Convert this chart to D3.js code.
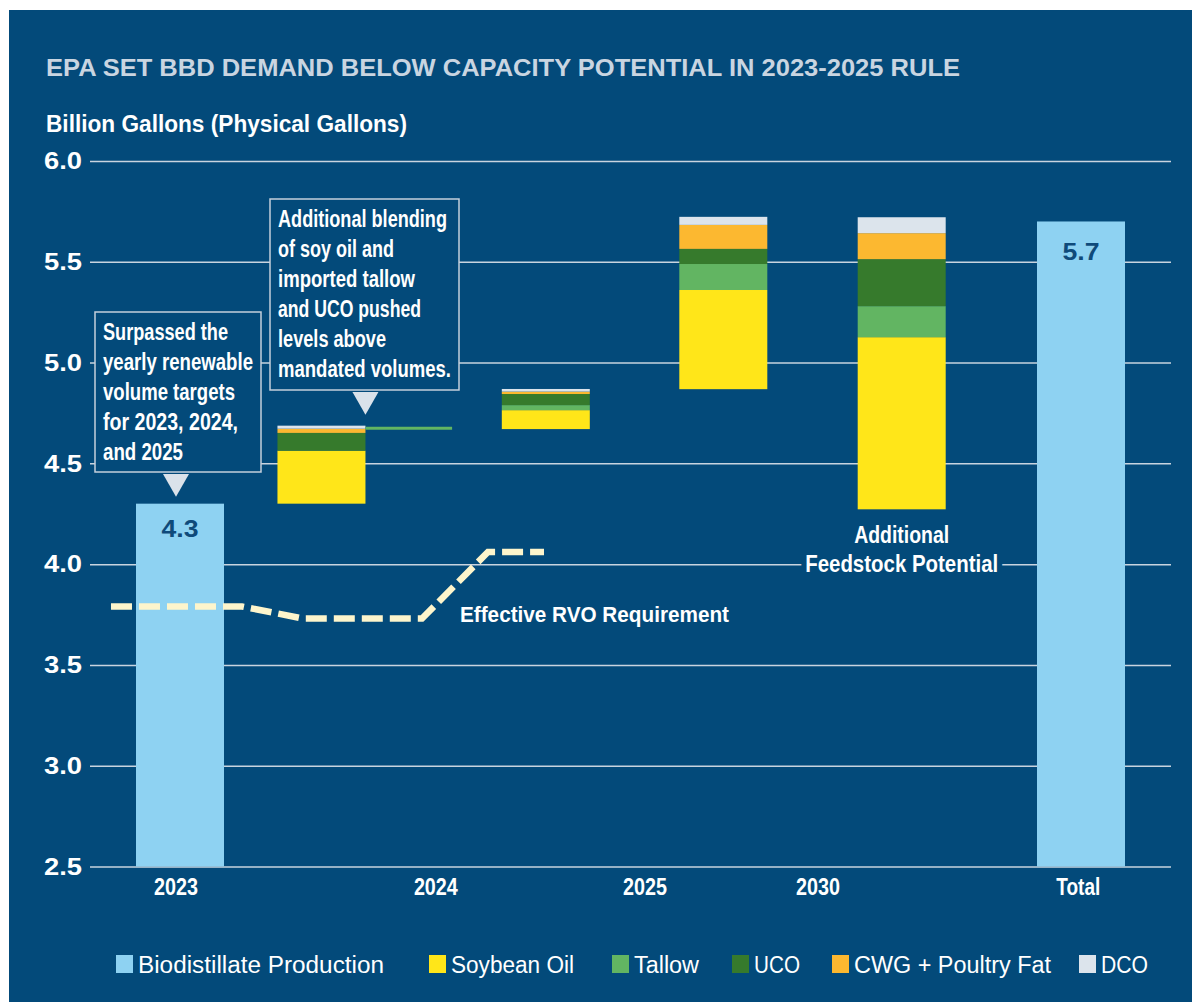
<!DOCTYPE html>
<html>
<head>
<meta charset="utf-8">
<script src="https://cdn.jsdelivr.net/npm/d3@7"></script>
<style>
html,body{margin:0;padding:0;background:#ffffff;}
svg{display:block;}
text{font-family:"Liberation Sans",Arial,"Helvetica Neue",sans-serif;}
</style>
</head>
<body>
<svg id="chart" width="1192" height="1002"></svg>
<script>
// ---------------- DATA ----------------
const categories    = ["2023", "2024", "2024-2025", "2025", "2030", "Total"];
const biodistillate = [4.3, null, null, null, null, 5.7];
const stackBase     = [null, 4.30, 4.67, 4.868, 4.272, null];
const soybeanOil    = [0, 0.263, 0.094, 0.492, 0.854, 0];
const tallow        = [0, 0.000, 0.025, 0.129, 0.154, 0];
const uco           = [0, 0.088, 0.055, 0.075, 0.233, 0];
const cwgPoultryFat = [0, 0.021, 0.012, 0.119, 0.129, 0];
const dco           = [0, 0.015, 0.013, 0.040, 0.079, 0];

const rvoPeriods     = ["2023", "2024", "2025"];
const rvoRequirement = [3.79, 3.73, 4.06];

const xTickLabels = ["2023", "2024", "2025", "2030", "Total"];
const yTickValues = [2.5, 3.0, 3.5, 4.0, 4.5, 5.0, 5.5, 6.0];
const seriesNames = ["Biodistillate Production", "Soybean Oil", "Tallow", "UCO", "CWG + Poultry Fat", "DCO"];

const titleText  = "EPA SET BBD DEMAND BELOW CAPACITY POTENTIAL IN 2023-2025 RULE";
const yAxisTitle = "Billion Gallons (Physical Gallons)";
const callout1   = ["Surpassed the", "yearly renewable", "volume targets", "for 2023, 2024,", "and 2025"];
const callout2   = ["Additional blending", "of soy oil and", "imported tallow", "and UCO pushed", "levels above", "mandated volumes."];
const rvoLabel   = "Effective RVO Requirement";
const potentialLabel = ["Additional", "Feedstock Potential"];

// ---------------- LAYOUT / STYLE ----------------
const W = 1192, H = 1002;
const BG = "#034a7a";
const COLORS = {
  "Biodistillate Production": "#8ed2f2",
  "Soybean Oil": "#ffe619",
  "Tallow": "#62b562",
  "UCO": "#367a2c",
  "CWG + Poultry Fat": "#fcb830",
  "DCO": "#dce4ec"
};
const GRID = "#c9d4df";
// horizontal slot positions (layout units)
const barSlot   = {"2023": 0, "2024": 1.57, "2024-2025": 4.06, "2025": 6.03, "2030": 8.01, "Total": 10};
const labelSlot = {"2023": -0.045, "2024": 2.84, "2025": 5.16, "2030": 7.08, "Total": 9.97};
const rvoSpan   = {"2023": [-0.766, 0.688], "2024": [1.365, 2.686], "2025": [3.418, 4.04]};
const connectorEndSlot = 3.02;
const barW = 88;

const x = d3.scaleLinear().domain([0, 10]).range([180, 1081]);
const y = d3.scaleLinear().domain([2.5, 6.0]).range([866.5, 161]);

const svg = d3.select("#chart");

// panel
svg.append("rect").attr("x", 9).attr("y", 10).attr("width", W - 9).attr("height", H - 10).attr("fill", BG);

function txt(g, s, attrs) {
  const t = g.append("text").text(s);
  Object.entries(attrs).forEach(([k, v]) => t.attr(k, v));
  return t;
}

// title & y-axis title
txt(svg, titleText, {x: 46, y: 76, "font-size": 24, "font-weight": 700, fill: "#c9d5e1",
  textLength: 914, lengthAdjust: "spacingAndGlyphs"});
txt(svg, yAxisTitle, {x: 46, y: 131.5, "font-size": 23, "font-weight": 700, fill: "#ffffff",
  textLength: 361, lengthAdjust: "spacingAndGlyphs"});

// y axis with gridlines
const yAxis = d3.axisLeft(y).tickValues(yTickValues).tickFormat(d3.format(".1f"))
  .tickSize(-(1171 - 90)).tickPadding(8);
const gy = svg.append("g").attr("transform", "translate(90,0)").call(yAxis);
gy.select(".domain").remove();
gy.selectAll(".tick line").attr("stroke", GRID).attr("stroke-width", 1.5);
gy.selectAll(".tick text").attr("fill", "#ffffff").attr("font-size", 23).attr("font-weight", 700)
  .attr("dy", "0.34em").attr("textLength", 38).attr("lengthAdjust", "spacingAndGlyphs")
  .style("font-family", "\"Liberation Sans\",Arial,sans-serif");

// biodistillate bars
const bioData = categories.map((c, i) => ({cat: c, v: biodistillate[i]})).filter(d => d.v != null);
svg.append("g").selectAll("rect").data(bioData).join("rect")
  .attr("x", d => x(barSlot[d.cat]) - barW / 2)
  .attr("y", d => y(d.v))
  .attr("width", barW)
  .attr("height", d => y(2.5) - y(d.v))
  .attr("fill", COLORS["Biodistillate Production"]);

// value labels on biodistillate bars
const valueLabelOffset = {"2023": 33.5, "Total": 39};
svg.append("g").selectAll("text").data(bioData).join("text")
  .attr("x", d => x(barSlot[d.cat]))
  .attr("y", d => y(d.v) + valueLabelOffset[d.cat])
  .attr("text-anchor", "middle").attr("font-size", 23).attr("font-weight", 700)
  .attr("fill", "#0f4a7a").attr("textLength", 37).attr("lengthAdjust", "spacingAndGlyphs")
  .text(d => d3.format(".1f")(d.v));

// feedstock stacks
const stackKeys = ["Soybean Oil", "Tallow", "UCO", "CWG + Poultry Fat", "DCO"];
const stackArrays = [soybeanOil, tallow, uco, cwgPoultryFat, dco];
const rows = categories.map((c, i) => {
  const r = {cat: c, base: stackBase[i]};
  stackKeys.forEach((k, j) => r[k] = stackArrays[j][i]);
  return r;
}).filter(r => r.base != null);
const stacked = d3.stack().keys(stackKeys)(rows);
const gs = svg.append("g");
stacked.forEach(layer => {
  gs.append("g").attr("fill", COLORS[layer.key]).selectAll("rect")
    .data(layer.filter(d => d[1] - d[0] > 0)).join("rect")
    .attr("x", d => x(barSlot[d.data.cat]) - barW / 2)
    .attr("width", barW)
    .attr("y", d => y(d.data.base + d[1]))
    .attr("height", d => y(d.data.base + d[0]) - y(d.data.base + d[1]));
});

// connector line from 2024 stack top
const row2024 = rows.find(r => r.cat === "2024");
const top2024 = row2024.base + d3.sum(stackKeys, k => row2024[k]);
svg.append("line")
  .attr("x1", x(barSlot["2024"]) + barW / 2).attr("x2", x(connectorEndSlot))
  .attr("y1", y(top2024) + 2.5).attr("y2", y(top2024) + 2.5)
  .attr("stroke", COLORS["Tallow"]).attr("stroke-width", 3);

// RVO dashed line
const rvoPts = [];
rvoPeriods.forEach((p, i) => {
  rvoPts.push([rvoSpan[p][0], rvoRequirement[i]]);
  rvoPts.push([rvoSpan[p][1], rvoRequirement[i]]);
});
svg.append("path")
  .attr("d", d3.line().x(d => x(d[0])).y(d => y(d[1]))(rvoPts))
  .attr("fill", "none").attr("stroke", "#fdf5cc").attr("stroke-width", 6.5)
  .attr("stroke-dasharray", "21,7");

txt(svg, rvoLabel, {x: 460, y: 622, "font-size": 22, "font-weight": 700, fill: "#ffffff",
  textLength: 269, lengthAdjust: "spacingAndGlyphs"});

// x labels
svg.append("g").selectAll("text").data(xTickLabels).join("text")
  .attr("x", d => x(labelSlot[d])).attr("y", 895)
  .attr("text-anchor", "middle").attr("font-size", 23).attr("font-weight", 700)
  .attr("fill", "#ffffff").attr("textLength", 44).attr("lengthAdjust", "spacingAndGlyphs")
  .text(d => d);

// "Additional Feedstock Potential"
const cx2030 = x(barSlot["2030"]);
const potWidths = [95, 193];
potentialLabel.forEach((s, i) => {
  txt(svg, s, {x: cx2030, y: 543 + i * 29, "text-anchor": "middle", "font-size": 23, "font-weight": 700,
    fill: "#ffffff", stroke: BG, "stroke-width": 12, "paint-order": "stroke", "stroke-linejoin": "round",
    textLength: potWidths[i], lengthAdjust: "spacingAndGlyphs"});
});

// callouts
function callout(box, lines, widths, tipX, tipY) {
  const g = svg.append("g");
  g.append("rect").attr("x", box.x0).attr("y", box.y0).attr("width", box.x1 - box.x0).attr("height", box.y1 - box.y0)
    .attr("fill", BG).attr("stroke", "#c5d0dc").attr("stroke-width", 1.5);
  g.append("path").attr("d", `M${tipX - 13},${box.y1 + 2} L${tipX + 13},${box.y1 + 2} L${tipX},${tipY} Z`)
    .attr("fill", "#dae2ea");
  lines.forEach((s, i) => {
    g.append("text").attr("x", box.x0 + 8).attr("y", box.firstBaseline + i * 30)
      .attr("font-size", 23).attr("font-weight", 700).attr("fill", "#ffffff")
      .attr("textLength", widths[i]).attr("lengthAdjust", "spacingAndGlyphs").text(s);
  });
}
callout({x0: 95, x1: 261, y0: 312, y1: 472, firstBaseline: 340}, callout1,
  [125, 150, 132, 135, 80], x(barSlot["2023"]) - 4, y(biodistillate[0]) - 7);
callout({x0: 270, x1: 459, y0: 199, y1: 390, firstBaseline: 227}, callout2,
  [169, 116, 137, 143, 108, 173], x(barSlot["2024"]) + barW / 2, y(top2024) - 11);

// legend
const legendSq = [116, 429, 612, 732, 832, 1079];
const legendW  = [246, 123, 65, 46, 197, 47];
const lg = svg.append("g").selectAll("g").data(seriesNames).join("g");
lg.append("rect").attr("x", (d, i) => legendSq[i]).attr("y", 955).attr("width", 17).attr("height", 18)
  .attr("fill", d => COLORS[d]);
lg.append("text").attr("x", (d, i) => legendSq[i] + 22).attr("y", 973)
  .attr("font-size", 23).attr("fill", "#ffffff")
  .attr("textLength", (d, i) => legendW[i]).attr("lengthAdjust", "spacingAndGlyphs")
  .text(d => d);
</script>
</body>
</html>
